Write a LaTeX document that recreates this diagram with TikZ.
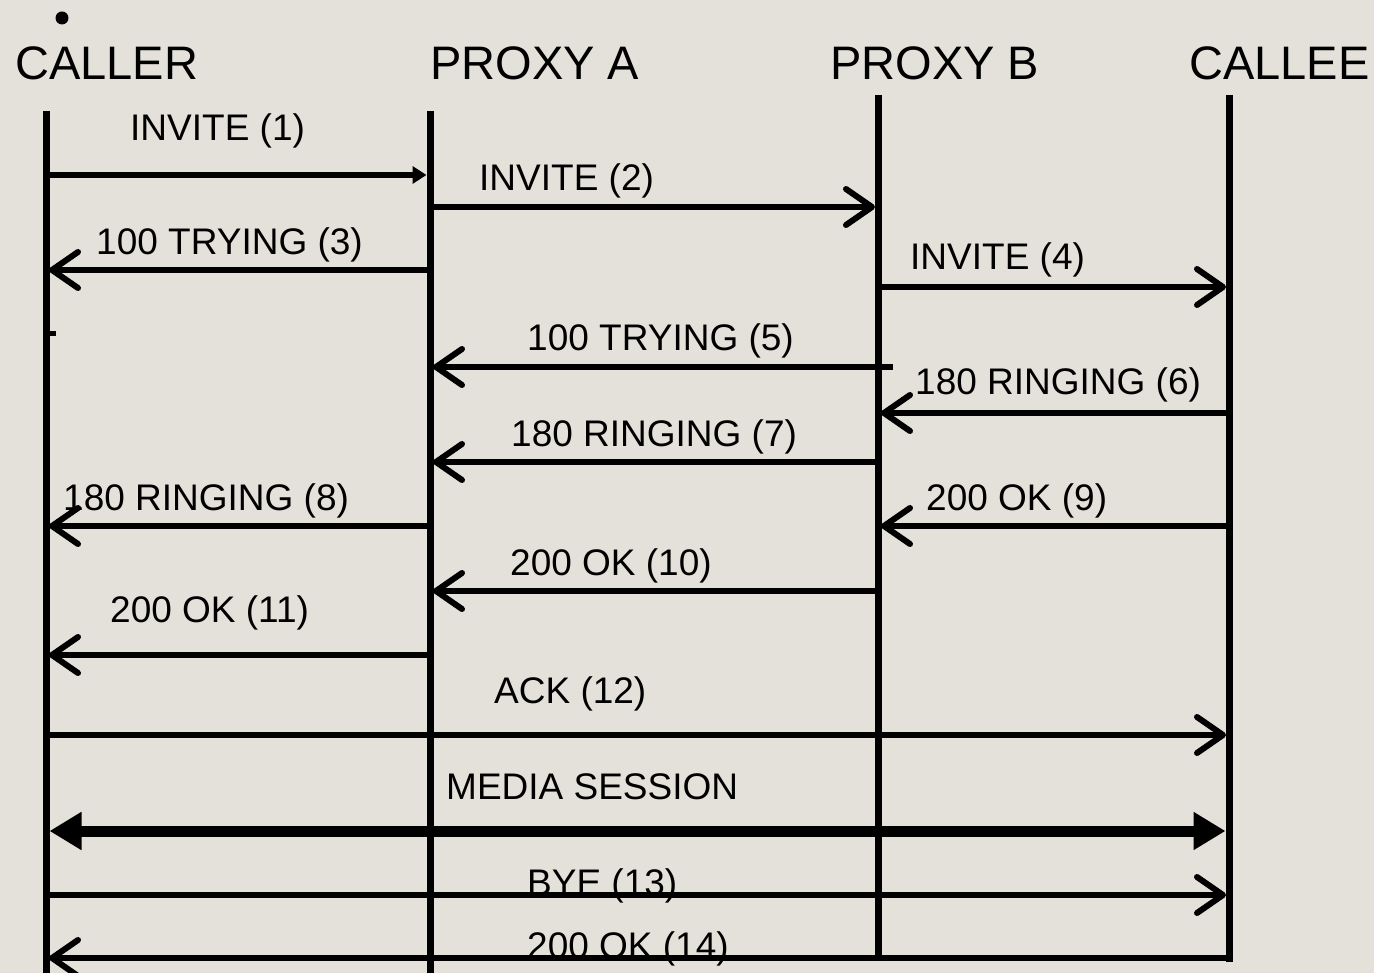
\documentclass[tikz,border=0pt]{standalone}
\usepackage{fontspec}
\setmainfont{Liberation Sans}
\usetikzlibrary{arrows.meta}
\definecolor{bg}{RGB}{228,225,218}
\begin{document}
\begin{tikzpicture}[x=1pt,y=-1pt,
  hdr/.style={anchor=base west,inner sep=0pt,font=\fontsize{47}{56}\selectfont},
  lbl/.style={anchor=base west,inner sep=0pt,font=\fontsize{37}{44}\selectfont},
  life/.style={line width=7pt},
  msg/.style={line width=6pt,-{Straight Barb[length=26pt,width=36pt,round]},shorten >=3pt},
  small/.style={line width=5.5pt,-{Triangle[length=14pt,width=17pt]},shorten >=3.5pt},
  media/.style={line width=11pt,{Triangle[length=32pt,width=36pt]}-{Triangle[length=32pt,width=36pt]},shorten >=3.5pt,shorten <=3.5pt}]
\fill[bg] (0,0) rectangle (1374,973);
\useasboundingbox (0,0) rectangle (1374,973);

% headers
\fill (62,18) circle (6.5pt);
\node[hdr] (hcaller) at (15,80) {CALLER};
\node[hdr] (hpa) at (430,80) {PROXY A};
\node[hdr] (hpb) at (830,80) {PROXY B};
\node[hdr] (hce) at (1189,80) {CALLEE};

% lifelines
\coordinate (ca) at (46,111);
\coordinate (pa) at (430,111);
\coordinate (pb) at (878,95);
\coordinate (ce) at (1229,95);
\coordinate (cab) at (46,980);
\coordinate (pab) at (430,980);
\coordinate (pbb) at (878,958);
\coordinate (ceb) at (1229,961.5);
\draw[life] (ca) -- (cab);
\draw[life] (pa) -- (pab);
\draw[life] (pb) -- (pbb);
\draw[life] (ce) -- (ceb);
\draw[line width=5pt] (ca |- 0,334) -- ++(10,0);

% labels
\node[lbl] (l1) at (130,141) {INVITE (1)};
\node[lbl] (l2) at (479,191) {INVITE (2)};
\node[lbl] (l3) at (96,255) {100 TRYING (3)};
\node[lbl] (l4) at (910,270) {INVITE (4)};
\node[lbl] (l5) at (527,351) {100 TRYING (5)};
\node[lbl] (l6) at (915,395) {180 RINGING (6)};
\node[lbl] (l7) at (511,447) {180 RINGING (7)};
\node[lbl] (l8) at (63,510) {180 RINGING (8)};
\node[lbl] (l9) at (926,510) {200 OK (9)};
\node[lbl] (l10) at (510,575) {200 OK (10)};
\node[lbl] (l11) at (110,622) {200 OK (11)};
\node[lbl] (l12) at (494,703) {ACK (12)};
\node[lbl] (l13) at (446,799) {MEDIA SESSION};
\node[lbl] (l14) at (527,895) {BYE (13)};
\node[lbl] (l15) at (527,958) {200 OK (14)};

% messages
\draw[small] (ca |- 0,175) -- (pa |- 0,175);
\draw[msg] (pa |- 0,207) -- (pb |- 0,207);
\draw[msg] (pa |- 0,270) -- (ca |- 0,270);
\draw[msg] (pb |- 0,287) -- (ce |- 0,287);
\draw[msg] (893,367) -- (pa |- 0,367);
\draw[msg] (ce |- 0,413) -- (pb |- 0,413);
\draw[msg] (pb |- 0,462) -- (pa |- 0,462);
\draw[msg] (pa |- 0,526) -- (ca |- 0,526);
\draw[msg] (ce |- 0,526) -- (pb |- 0,526);
\draw[msg] (pb |- 0,591) -- (pa |- 0,591);
\draw[msg] (pa |- 0,655) -- (ca |- 0,655);
\draw[msg] (ca |- 0,735) -- (ce |- 0,735);
\draw[media] (ca |- 0,831) -- (ce |- 0,831);
\draw[msg] (ca |- 0,895) -- (ce |- 0,895);
\draw[msg] (ce |- 0,958) -- (ca |- 0,958);
\end{tikzpicture}
\end{document}
